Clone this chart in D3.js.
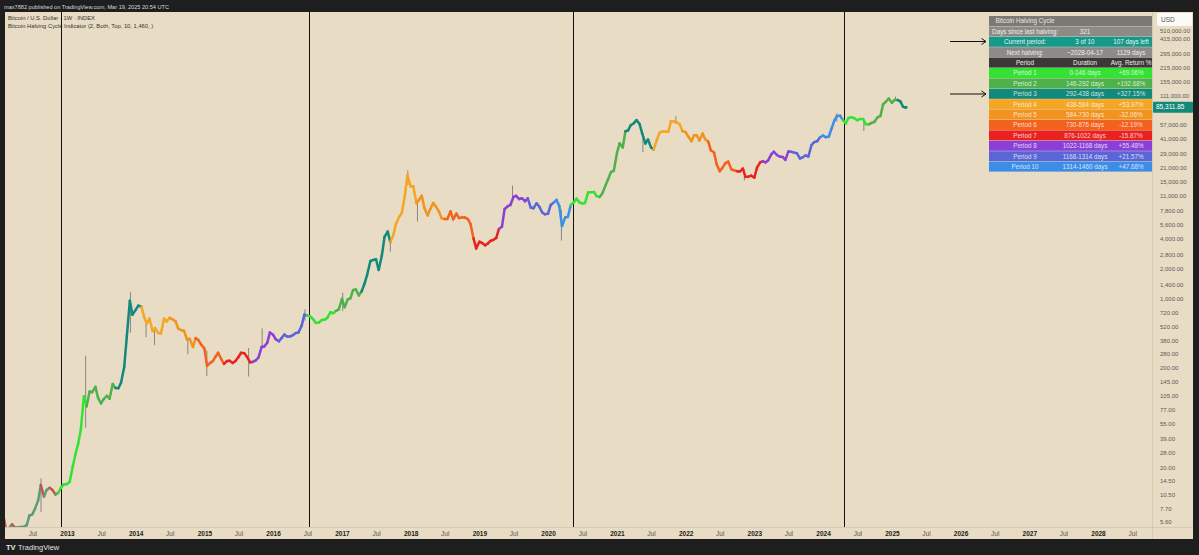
<!DOCTYPE html>
<html><head><meta charset="utf-8">
<script src="https://cdn.jsdelivr.net/npm/d3@7"></script>
<style>
html,body{margin:0;padding:0;background:#1e1e1e;overflow:hidden}
text{font-family:"Liberation Sans",Arial,sans-serif}
</style>
</head><body>
<svg id="c" width="1199" height="555"></svg>
<script>
// ---------- DATA ----------
const halvings = ["2012-11-28","2016-07-09","2020-05-11","2024-04-20"];
// semi-monthly closes (1st and 15th of each month)
const p2012 = [6.1,4.4,4.9,5.3,4.9,4.95,5.0,5.0,5.2,6.5,6.7,7.6,9.3,13.2,10.1,11.8,12.4,11.8,10.6,11.0,12.5,13.4]; // from Feb
const p2013 = [13.5,14.2,20.4,27.0,34.3,47.0,104,82,116,114,129,100,88,97,105,98,138,126,125,142,205,420,955,690];
const p2014 = [770,850,830,650,560,630,470,500,450,445,630,590,640,620,590,500,480,475,385,395,325,400,380,345];
const p2015 = [315,210,225,235,260,285,245,220,235,237,225,235,258,285,281,260,228,230,238,255,325,330,360,455];
const p2016 = [432,390,372,400,435,415,416,428,450,455,535,690,675,665,620,570,575,608,615,640,730,712,755,780];
const p2017 = [995,820,985,1010,1220,1240,1080,1180,1420,1750,2400,2450,2500,1950,2720,4200,4750,3700,4400,5700,6700,7300,10900,17600];
const p2018 = [13500,13600,9100,10000,10900,8200,6900,8000,9200,8500,7500,6450,6350,6350,7600,6300,7200,6500,6600,6600,6350,5650,4050,3200];
const p2019 = [3750,3650,3450,3600,3820,3900,4100,5050,5300,8000,8550,8800,10600,10900,10100,10300,9600,10300,8300,8150,9150,8500,7400,7100];
const p2020 = [7200,8800,9350,9900,8550,5400,6600,6650,8800,9300,10200,9400,9100,9200,11800,11850,11900,10800,10600,11500,13800,16000,19000,19400];
const p2021 = [29300,36800,33500,48700,49600,56000,58800,63100,57800,46400,36700,40200,33500,31800,39900,47000,48800,48100,48200,61500,61000,60000,57000,48900];
const p2022 = [47700,43100,38700,44500,44400,39300,46300,40500,38500,31300,29800,22600,19300,20800,23300,24100,20100,19700,19300,19100,20500,16900,17000,17400];
const p2023 = [16600,20900,23700,24300,23600,24700,28500,30300,28100,27100,26800,25100,30500,30300,29700,29200,25900,26600,27900,27100,35400,37900,38700,42200];
const p2024 = [44200,42500,43100,51800,62400,69400,69700,63400,58300,66200,67500,66000,62900,64800,64600,57500,57300,59100,60800,67000,69500,91000,97200,104300];
const p2025 = [94500,100500,100600,97500,86000,84300];
const lastDate = "2025-03-19", lastClose = 85311.85;
// notable wicks: [date, high, low]
const wicks = [
 ["2012-08-16",15.4,7.1],["2013-04-10",266,50],["2013-12-04",1163,455],["2014-02-25",600,410],
 ["2014-04-11",520,340],["2014-10-05",400,275],["2015-01-14",300,166],["2015-08-24",318,164],
 ["2015-11-04",502,330],["2016-06-18",780,600],["2017-01-05",1150,750],["2017-09-15",4000,2970],
 ["2017-12-17",19600,14000],["2018-02-06",9000,6000],["2018-12-15",3600,3150],["2019-06-26",13800,10500],
 ["2020-03-12",7900,3850],["2021-05-19",43000,30000],["2021-11-10",69000,58000],["2022-11-09",20000,15500],
 ["2024-03-14",73800,61000],["2024-08-05",62000,49000],["2025-01-20",109000,99000]
];
const xTicks = ["2012-07-01","2013-01-01","2013-07-01","2014-01-01","2014-07-01","2015-01-01","2015-07-01","2016-01-01","2016-07-01","2017-01-01","2017-07-01","2018-01-01","2018-07-01","2019-01-01","2019-07-01","2020-01-01","2020-07-01","2021-01-01","2021-07-01","2022-01-01","2022-07-01","2023-01-01","2023-07-01","2024-01-01","2024-07-01","2025-01-01","2025-07-01","2026-01-01","2026-07-01","2027-01-01","2027-07-01","2028-01-01","2028-07-01"];
const yTicks = [510000,415000,295000,215000,155000,111000,57000,41000,29000,21000,15000,11000,7800,5600,4000,2800,2000,1400,1000,720,520,380,280,200,145,105,77,55,39,28,20,14.5,10.5,7.7,5.6];
const periodColors = ["#34e233","#4fb14c","#11897c","#f5a623","#f2921f","#f2621e","#e9221f","#8b3fd8","#5a66d6","#3d8de6"];
const tableHead = [["Bitcoin Halving Cycle","",""],["Days since last halving:","321",""],["Current period:","3 of 10","107 days left"],["Next halving:","~2028-04-17","1129 days"],["Period","Duration","Avg. Return %"]];
const periodNames = ["Period 1","Period 2","Period 3","Period 4","Period 5","Period 6","Period 7","Period 8","Period 9","Period 10"];
const durations = ["0-146 days","146-292 days","292-438 days","438-584 days","584-730 days","730-876 days","876-1022 days","1022-1168 days","1168-1314 days","1314-1460 days"];
const returns = ["+69.06%","+192.68%","+327.15%","+53.97%","-32.06%","-12.19%","-15.87%","+55.48%","+21.57%","+47.68%"];

// ---------- BUILD SERIES ----------
const years = [[2012,1,p2012],[2013,0,p2013],[2014,0,p2014],[2015,0,p2015],[2016,0,p2016],[2017,0,p2017],[2018,0,p2018],[2019,0,p2019],[2020,0,p2020],[2021,0,p2021],[2022,0,p2022],[2023,0,p2023],[2024,0,p2024],[2025,0,p2025]];
const series = [];
years.forEach(([yr,sm,arr])=>arr.forEach((v,i)=>series.push({d:new Date(yr,sm+Math.floor(i/2),i%2?15:1),c:v})));
series.push({d:new Date(lastDate+"T00:00"),c:lastClose});
const hDates = halvings.map(s=>new Date(s+"T00:00"));

function colorAt(d,prev,cur){
  let h=null; hDates.forEach(hd=>{if(hd<=d)h=hd;});
  if(!h) return cur>=prev?"#5f9a78":"#c2554f";
  const days=(d-h)/864e5;
  return periodColors[Math.min(9,Math.floor(days/146))];
}

// ---------- LAYOUT ----------
const svg=d3.select("#c");
const PL=5,PR=1152,PT=12,PB=527,PANER=1193,PANEB=539;
svg.append("rect").attr("width",1199).attr("height",555).attr("fill","#1e1e1e");
svg.append("rect").attr("x",PL).attr("y",PT).attr("width",PANER-PL).attr("height",PANEB-PT).attr("fill","#e8dcc4");

const x=d3.scaleTime().domain([new Date(2013,0,1),new Date(2028,0,1)]).range([67,1098]);
const y=d3.scaleLog().domain([5.6,415000]).range([522,39]);

svg.append("defs").append("clipPath").attr("id","clip").append("rect").attr("x",PL).attr("y",PT).attr("width",PR-PL).attr("height",PB-PT);
const plot=svg.append("g").attr("clip-path","url(#clip)");

// halving lines
plot.selectAll("line.hv").data(hDates).join("line").attr("class","hv")
  .attr("x1",d=>Math.round(x(d))+0.5).attr("x2",d=>Math.round(x(d))+0.5).attr("y1",PT).attr("y2",PB)
  .attr("stroke","#111").attr("stroke-width",1);

// wicks
plot.selectAll("line.wk").data(wicks).join("line").attr("class","wk")
  .attr("x1",d=>x(new Date(d[0]+"T00:00"))).attr("x2",d=>x(new Date(d[0]+"T00:00")))
  .attr("y1",d=>y(d[1])).attr("y2",d=>y(d[2]))
  .attr("stroke","#707070").attr("stroke-opacity",0.8).attr("stroke-width",1);

// price segments
const segs=d3.pairs(series);
plot.selectAll("line.sg").data(segs).join("line").attr("class","sg")
  .attr("x1",d=>x(d[0].d)).attr("y1",d=>y(d[0].c)).attr("x2",d=>x(d[1].d)).attr("y2",d=>y(d[1].c))
  .attr("stroke",d=>colorAt(d[1].d,d[0].c,d[1].c)).attr("stroke-width",2.5).attr("stroke-linecap","round");

// separators
svg.append("line").attr("x1",PR+0.5).attr("x2",PR+0.5).attr("y1",PT).attr("y2",PANEB).attr("stroke","rgba(0,0,0,0.08)");
svg.append("line").attr("x1",PL).attr("x2",PANER).attr("y1",PB+0.5).attr("y2",PB+0.5).attr("stroke","rgba(0,0,0,0.08)");

// y axis
const ya=svg.append("g").attr("transform",`translate(1158,0)`)
  .call(d3.axisRight(y).tickValues(yTicks).tickSize(0).tickPadding(2).tickFormat(d3.format(",.2f")));
ya.select(".domain").remove();
ya.selectAll("text").attr("font-size","6px").attr("fill","#5a5a5a").attr("font-family","Liberation Sans,Arial,sans-serif");

// x axis
const xa=svg.append("g").attr("transform",`translate(0,${PB})`)
  .call(d3.axisBottom(x).tickValues(xTicks.map(s=>new Date(s+"T00:00"))).tickSize(0).tickPadding(4)
  .tickFormat(d=>d.getMonth()===0?d3.timeFormat("%Y")(d):"Jul"));
xa.select(".domain").remove();
xa.selectAll("text").attr("font-size","6.5px").attr("font-family","Liberation Sans,Arial,sans-serif")
  .attr("fill",d=>d.getMonth()===0?"#222":"#555").attr("font-weight",d=>d.getMonth()===0?"bold":"normal");

// USD box (covers top tick, as in the original)
svg.append("rect").attr("x",1157).attr("y",13).attr("width",35).attr("height",13).attr("fill","#fbfaf7").attr("rx",1);
svg.append("text").attr("x",1161).attr("y",21.5).attr("font-size","6.5px").attr("fill","#555").text("USD");

// last price label
svg.append("rect").attr("x",1153).attr("y",y(lastClose)-5.5).attr("width",40).attr("height",11).attr("fill","#13897a").attr("rx",1);
svg.append("text").attr("x",1156).attr("y",y(lastClose)+2.3).attr("font-size","6.5px").attr("fill","#fff").text(d3.format(",.2f")(lastClose));

// table
const TL=989,TR=1152,TT=16,RH=10.4;
const colC=[1025,1085,1131];
const headBg=["#7c7874","#8d8b88","#139a8b","#8d8b88","#3a3938"];
const rows=tableHead.map((r,i)=>({cells:r,bg:headBg[i],fg:i===0?"#e6e6e6":"#eeeeee"}))
  .concat(periodNames.map((n,i)=>({cells:[n,durations[i],returns[i]],bg:periodColors[i],fg:"rgba(255,255,255,0.78)"})));
const tg=svg.append("g");
rows.forEach((r,i)=>{
  const ty=TT+i*RH;
  tg.append("rect").attr("x",TL).attr("y",ty).attr("width",TR-TL).attr("height",RH-0.4).attr("fill",r.bg);
  r.cells.forEach((t,j)=>{
    if(!t) return;
    tg.append("text").attr("x",colC[j]).attr("y",ty+RH/2+2.2).attr("text-anchor","middle")
      .attr("font-size","6.3px").attr("fill",r.fg).text(t);
  });
});

// arrows
[41.5,94].forEach(ay=>{
  svg.append("path").attr("d",`M950,${ay} H986 M981.5,${ay-3} L986,${ay} L981.5,${ay+3}`)
    .attr("stroke","#111").attr("stroke-width",1).attr("fill","none");
});

// legend texts
svg.append("text").attr("x",8).attr("y",20).attr("font-size","5.8px").attr("fill","#333").text("Bitcoin / U.S. Dollar · 1W · INDEX");
svg.append("text").attr("x",8).attr("y",28).attr("font-size","5.8px").attr("fill","#333").text("Bitcoin Halving Cycle Indicator (2, Both, Top, 10, 1,460, )");

// top bar
svg.append("text").attr("x",4).attr("y",8.5).attr("font-size","5.6px").attr("fill","#d8d8d8").text("max7882 published on TradingView.com, Mar 19, 2025 20:54 UTC");
// bottom logo
svg.append("text").attr("x",6).attr("y",549.5).attr("font-size","7.5px").attr("font-weight","bold").attr("fill","#e8e8e8").text("TV");
svg.append("text").attr("x",18).attr("y",549.5).attr("font-size","7.5px").attr("fill","#e0e0e0").text("TradingView");
</script>
</body></html>
